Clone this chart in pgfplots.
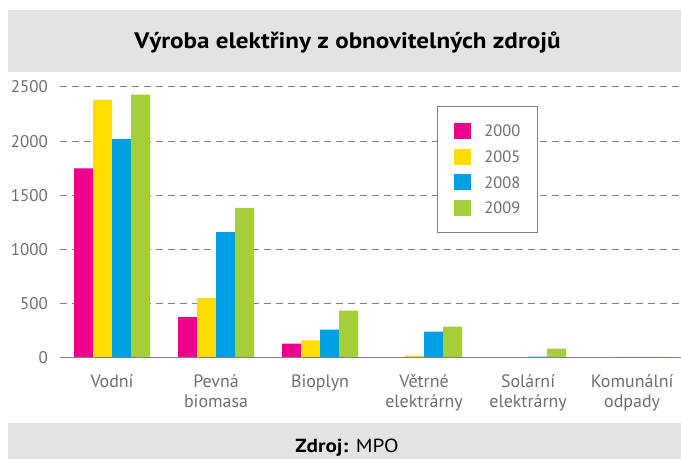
\documentclass[border=0pt]{standalone}
\usepackage{fontspec}
\setmainfont{PT Sans}
\usepackage{pgfplots}
\pgfplotsset{compat=1.18}
\definecolor{cmag}{HTML}{EC008C}
\definecolor{cyel}{HTML}{FFDD00}
\definecolor{cblu}{HTML}{009FE3}
\definecolor{cgrn}{HTML}{A6CE39}
\definecolor{band}{HTML}{E2E3E4}
\definecolor{txt}{HTML}{6D6E71}
\definecolor{gridc}{HTML}{808080}
\newfontfamily\titlefont[FakeStretch=1.12]{PT Sans}
\begin{document}
\begin{tikzpicture}[x=1bp,y=1bp]
\path[use as bounding box] (-60,-101) rectangle (621,358);
\fill[band] (-52,286) rectangle (621,348);
\fill[band] (-52,-101) rectangle (621,-65);
\node[font=\titlefont\fontsize{22.5}{26}\selectfont\bfseries, anchor=base, inner sep=0pt] at (287.5,309) {Výroba elektřiny z obnovitelných zdrojů};
\node[font=\titlefont\fontsize{19}{22}\selectfont, anchor=base, inner sep=0pt] at (287,-95) {\textbf{Zdroj:} MPO};
\begin{axis}[at={(0,0)}, anchor=south west, scale only axis,
  width=621bp, height=271bp,
  xmin=-0.5, xmax=5.47, ymin=0, ymax=2500,
  ybar=0pt, bar width=19bp,
  axis line style={draw=none}, tick style={draw=none},
  /pgf/number format/1000 sep={},
  /pgf/number format/assume math mode=true,
  ytick={0,500,1000,1500,2000,2500},
  xtick={0,1,2,3,4,5},
  xticklabels={Vodní, Pevná\\biomasa, Bioplyn, Větrné\\elektrárny, Solární\\elektrárny, Komunální\\odpady},
  xticklabel style={align=center, font=\fontsize{18}{20}\selectfont, text=txt, anchor=north, inner sep=0pt, yshift=-12bp},
  yticklabel style={font=\fontsize{17}{20}\selectfont, text=txt, anchor=east, inner sep=0pt, xshift=-12bp},
  ymajorgrids, grid style={gridc, line width=1bp, dash pattern=on 7bp off 5bp},
  legend style={at={(axis description cs:0.607,0.930)}, anchor=north west, draw=gridc, line width=1bp, fill=white,
    inner xsep=17bp, inner ysep=16.5bp, row sep=9.7bp, column sep=13bp,
    font=\fontsize{16.5}{20}\selectfont, text=txt, nodes={inner sep=0pt, text height=11.5bp, text depth=0bp}},
  legend cell align=left,
  legend image code/.code={\fill[#1] (0bp,-8bp) rectangle (17bp,8bp);},
]
\addplot[fill=cmag, draw=none] coordinates {(0,1750) (1,378) (2,132) (3,0) (4,0) (5,3)};
\addplot[fill=cyel, draw=none] coordinates {(0,2380) (1,553) (2,163) (3,21) (4,0) (5,10)};
\addplot[fill=cblu, draw=none] coordinates {(0,2020) (1,1162) (2,262) (3,243) (4,13) (5,11)};
\addplot[fill=cgrn, draw=none] coordinates {(0,2430) (1,1384) (2,438) (3,290) (4,86) (5,10)};
\legend{2000,2005,2008,2009}
\draw[gridc, line width=1.5bp] (axis cs:-0.5,0) -- (axis cs:5.47,0);
\end{axis}
\end{tikzpicture}
\end{document}
